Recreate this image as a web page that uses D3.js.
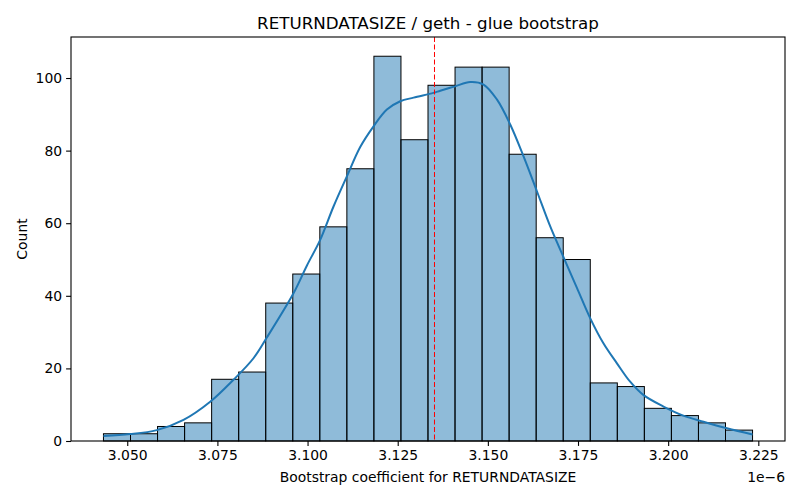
<!DOCTYPE html>
<html>
<head>
<meta charset="utf-8">
<script src="https://cdn.jsdelivr.net/npm/d3@7"></script>
<style>
  body { margin: 0; background: #fff; }
  svg { display: block; font-family: "DejaVu Sans", sans-serif; }
</style>
</head>
<body>
<svg id="chart" width="800" height="500"></svg>
<script>
// ---- data (x values in units of 1e-6) ----
const binStart = 3.0434;
const binEnd = 3.2234;
const counts = [2, 2, 4, 5, 17, 19, 38, 46, 59, 75, 106, 83, 98, 103, 103, 79, 56, 50, 16, 15, 9, 7, 5, 3];
const kdeX = [3.0434, 3.0508, 3.0582, 3.0656, 3.0730, 3.0794, 3.0850, 3.0887, 3.0961, 3.0998,
              3.1035, 3.1072, 3.1109, 3.1146, 3.1183, 3.1220, 3.1257, 3.1294, 3.1349, 3.1368,
              3.1409, 3.1451, 3.1488, 3.1525, 3.1562, 3.1599, 3.1636, 3.1673, 3.1710, 3.1747,
              3.1784, 3.1820, 3.1858, 3.1894, 3.1931, 3.1987, 3.2042, 3.2098, 3.2163, 3.2234];
const kdeY = [1.4, 1.9, 3.0, 5.8, 10.8, 16.8, 22.8, 28.5, 40.7, 48.3,
              55.4, 64.6, 72.9, 81.0, 86.7, 91.3, 93.6, 94.6, 95.9, 96.5,
              97.7, 98.9, 98.2, 94.1, 87.2, 78.4, 68.8, 59.1, 50.6, 42.2,
              33.8, 27.0, 21.4, 16.4, 12.7, 9.5, 7.0, 5.3, 3.5, 1.8];
const meanLine = 3.1352;
const xTicks = [3.050, 3.075, 3.100, 3.125, 3.150, 3.175, 3.200, 3.225];
const yTicks = [0, 20, 40, 60, 80, 100];
const titleText = "RETURNDATASIZE / geth - glue bootstrap";
const xLabelText = "Bootstrap coefficient for RETURNDATASIZE";
const yLabelText = "Count";
const offsetText = "1e\u22126";

// ---- layout ----
const L = 71, R = 785, T = 37, B = 441;
const svg = d3.select("#chart");

const span = binEnd - binStart;
const x = d3.scaleLinear().domain([binStart - span * 0.05, binEnd + span * 0.05]).range([L, R]);
const yMax = d3.max(counts) * 1.05;
const y = d3.scaleLinear().domain([0, yMax]).range([B, T]);

const binW = span / counts.length;
const bins = counts.map((c, i) => ({ x0: binStart + i * binW, x1: binStart + (i + 1) * binW, c }));

// bars
svg.append("g").selectAll("rect").data(bins).join("rect")
  .attr("x", d => x(d.x0))
  .attr("y", d => y(d.c))
  .attr("width", d => x(d.x1) - x(d.x0))
  .attr("height", d => y(0) - y(d.c))
  .attr("fill", "rgba(31,119,180,0.5)")
  .attr("stroke", "#000")
  .attr("stroke-width", 1);

// kde
const line = d3.line().x((d, i) => x(kdeX[i])).y(d => y(d)).curve(d3.curveCatmullRom.alpha(0.5));
svg.append("path").datum(kdeY)
  .attr("d", line)
  .attr("fill", "none")
  .attr("stroke", "#1f77b4")
  .attr("stroke-width", 2);

// mean line
svg.append("line")
  .attr("x1", x(meanLine)).attr("x2", x(meanLine))
  .attr("y1", T).attr("y2", B)
  .attr("stroke", "red").attr("stroke-width", 1)
  .attr("stroke-dasharray", "5,2.5");

// axes
const fs = 13.9;
const xAxis = d3.axisBottom(x).tickValues(xTicks).tickFormat(d3.format(".3f")).tickSizeOuter(0).tickSize(4.9).tickPadding(4);
const gx = svg.append("g").attr("transform", `translate(0,${B})`).call(xAxis);
gx.select(".domain").remove();
gx.selectAll("text").attr("font-size", fs).attr("font-family", "DejaVu Sans").attr("fill", "#000");
gx.selectAll("line").attr("stroke", "#000").attr("stroke-width", 1.1);

const yAxis = d3.axisLeft(y).tickValues(yTicks).tickSizeOuter(0).tickSize(4.9).tickPadding(4);
const gy = svg.append("g").attr("transform", `translate(${L},0)`).call(yAxis);
gy.select(".domain").remove();
gy.selectAll("text").attr("font-size", fs).attr("font-family", "DejaVu Sans").attr("fill", "#000");
gy.selectAll("line").attr("stroke", "#000").attr("stroke-width", 1.1);

// frame
svg.append("rect").attr("x", L).attr("y", T).attr("width", R - L).attr("height", B - T)
  .attr("fill", "none").attr("stroke", "#000").attr("stroke-width", 1.1);

// labels
svg.append("text").attr("x", (L + R) / 2).attr("y", 28.5).attr("text-anchor", "middle")
  .attr("font-size", 16.7).text(titleText);
svg.append("text").attr("x", (L + R) / 2).attr("y", 482).attr("text-anchor", "middle")
  .attr("font-size", fs).text(xLabelText);
svg.append("text").attr("transform", `translate(27,${(T + B) / 2}) rotate(-90)`).attr("text-anchor", "middle")
  .attr("font-size", fs).text(yLabelText);
svg.append("text").attr("x", R).attr("y", 482).attr("text-anchor", "end")
  .attr("font-size", fs).text(offsetText);
</script>
</body>
</html>
